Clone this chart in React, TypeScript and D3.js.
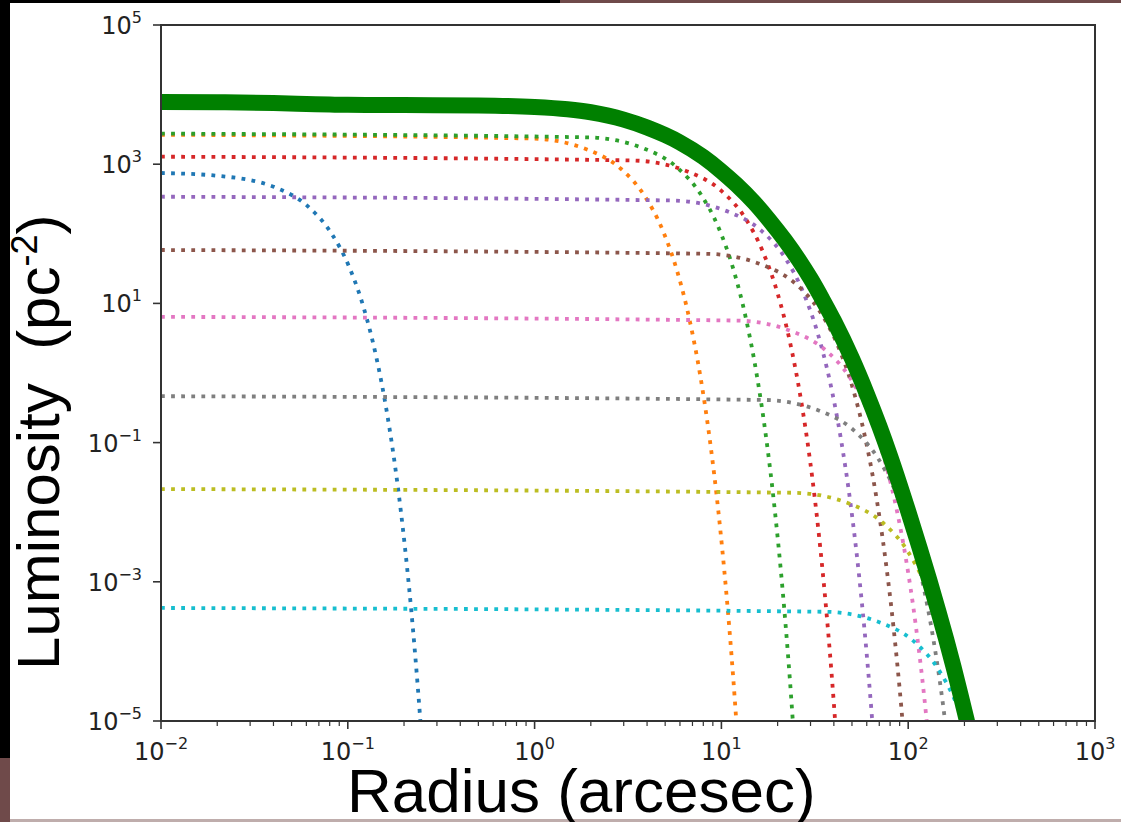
import React from "react";
import * as d3 from "d3";

const W = 1121;
const H = 822;

// Axis ticks
const X_TICK_VALUES = [1e-2, 1e-1, 1e0, 1e1, 1e2, 1e3];
const X_TICK_EXPONENTS = ["\u22122", "\u22121", "0", "1", "2", "3"];
const Y_TICK_VALUES = [1e5, 1e3, 1e1, 1e-1, 1e-3, 1e-5];
const Y_TICK_EXPONENTS = ["5", "3", "1", "\u22121", "\u22123", "\u22125"];

// Component colours (matplotlib tab10 order)
const COMPONENT_COLORS = [
  "#1f77b4", "#ff7f0e", "#2ca02c", "#d62728", "#9467bd",
  "#8c564b", "#e377c2", "#7f7f7f", "#bcbd22", "#17becf",
];

// Component profiles: radius (arcsec) and luminosity (pc^-2)
const c0Radius = [0.01, 0.0203, 0.0406, 0.0609, 0.0812, 0.1015, 0.1218, 0.1421, 0.1624, 0.1827, 0.203, 0.2233, 0.2436, 0.2639];
const c0Lum = [748, 680, 468, 250, 104, 33.9, 8.57, 1.69, 0.259, 0.0309, 2.87e-3, 2.08e-4, 1.17e-5, 5.16e-7];

const c1Radius = [0.01, 0.965, 1.93, 2.895, 3.86, 4.825, 5.79, 6.755, 7.72, 8.685, 9.65, 10.615, 11.58, 12.545];
const c1Lum = [2650, 2340, 1610, 860, 358, 116, 29.4, 5.79, 0.888, 0.106, 9.87e-3, 7.15e-4, 4.03e-5, 1.77e-6];

const c2Radius = [0.01, 1.935, 3.87, 5.805, 7.74, 9.675, 11.61, 13.545, 15.48, 17.415, 19.35, 21.285, 23.22, 25.155];
const c2Lum = [2750, 2430, 1670, 892, 372, 121, 30.5, 6.01, 0.922, 0.11, 1.02e-2, 7.42e-4, 4.19e-5, 1.84e-6];

const c3Radius = [0.01, 3.325, 6.65, 9.975, 13.3, 16.625, 19.95, 23.275, 26.6, 29.925, 33.25, 36.575, 39.9, 43.225];
const c3Lum = [1282, 1132, 778, 416, 174, 56.3, 14.2, 2.8, 0.43, 5.14e-2, 4.78e-3, 3.46e-4, 1.95e-5, 8.58e-7];

const c4Radius = [0.01, 5.45, 10.9, 16.35, 21.8, 27.25, 32.7, 38.15, 43.6, 49.05, 54.5, 59.95, 65.4, 70.85];
const c4Lum = [341, 301, 207, 111, 46.2, 15.0, 3.79, 0.746, 0.114, 1.37e-2, 1.27e-3, 9.21e-5, 5.2e-6, 2.28e-7];

const c5Radius = [0.01, 8.35, 16.7, 25.05, 33.4, 41.75, 50.1, 58.45, 66.8, 75.15, 83.5, 91.85, 100.2];
const c5Lum = [58.5, 51.6, 35.5, 19.0, 7.91, 2.57, 0.65, 0.128, 1.96e-2, 2.34e-3, 2.18e-4, 1.58e-5, 8.91e-7];

const c6Radius = [0.01, 12.15, 24.3, 36.45, 48.6, 60.75, 72.9, 85.05, 97.2, 109.35, 121.5, 133.65];
const c6Lum = [6.41, 5.66, 3.89, 2.08, 0.868, 0.282, 7.12e-2, 1.4e-2, 2.15e-3, 2.57e-4, 2.39e-5, 1.73e-6];

const c7Radius = [0.01, 17, 34, 51, 68, 85, 102, 119, 136, 153, 170];
const c7Lum = [0.464, 0.41, 0.282, 0.151, 6.29e-2, 2.04e-2, 5.16e-3, 1.02e-3, 1.56e-4, 1.86e-5, 1.73e-6];

const c8Radius = [0.01, 24.5, 49, 73.5, 98, 122.5, 147, 171.5, 196, 220.5];
const c8Lum = [2.15e-2, 1.9e-2, 1.31e-2, 6.99e-3, 2.91e-3, 9.46e-4, 2.39e-4, 4.71e-5, 7.22e-6, 8.63e-7];

const c9Radius = [0.01, 36, 72, 108, 144, 180, 216, 252];
const c9Lum = [4.21e-4, 3.71e-4, 2.55e-4, 1.37e-4, 5.69e-5, 1.85e-5, 4.68e-6, 9.2e-7];

// Total profile (thick green curve)
const totalRadius = [0.01, 0.02, 0.04, 0.06, 0.08, 0.1, 0.15, 0.2, 0.5, 1, 1.5, 2, 3, 4, 5, 6, 8, 10, 12, 15, 18, 22, 26, 30, 35, 40, 50, 60, 70, 80, 90, 100, 115, 130, 145, 160, 175, 190, 205, 220];
const totalLum = [7834, 7769, 7560, 7344, 7196, 7123, 7086, 7067, 6971, 6647, 6161, 5578, 4378, 3373, 2621, 2056, 1266, 791, 512, 280, 158, 79.2, 41.8, 22.8, 11.0, 5.63, 1.61, 0.505, 0.174, 6.41e-2, 2.49e-2, 1.03e-2, 3.1e-3, 1.04e-3, 3.78e-4, 1.47e-4, 5.94e-5, 2.47e-5, 1.07e-5, 4.86e-6];

const COMPONENTS: [number[], number[]][] = [
  [c0Radius, c0Lum], [c1Radius, c1Lum], [c2Radius, c2Lum], [c3Radius, c3Lum], [c4Radius, c4Lum],
  [c5Radius, c5Lum], [c6Radius, c6Lum], [c7Radius, c7Lum], [c8Radius, c8Lum], [c9Radius, c9Lum],
];

const PLOT = { left: 161, right: 1095, top: 25, bottom: 721 };

export default function App() {
  const x = d3.scaleLog().domain([1e-2, 1e3]).range([PLOT.left, PLOT.right]);
  const y = d3.scaleLog().domain([1e-5, 1e5]).range([PLOT.bottom, PLOT.top]);

  const line = d3
    .line<[number, number]>()
    .x((d) => x(d[0]))
    .y((d) => y(d[1]))
    .curve(d3.curveMonotoneX);

  const zip = (r: number[], l: number[]) => r.map((v, i) => [v, l[i]] as [number, number]);

  // minor x ticks
  const xMinor: number[] = [];
  for (let e = -2; e < 3; e++) {
    for (let m = 2; m <= 9; m++) xMinor.push(m * Math.pow(10, e));
  }

  const tickColor = "#333";
  const labelColor = "#222";
  const tickFont = "'DejaVu Sans', sans-serif";

  return (
    <svg
      width={W}
      height={H}
      style={{ position: "absolute", left: 0, top: 0, background: "#fff" }}
    >
      {/* background frame decoration */}
      <rect x={0} y={0} width={W} height={H} fill="#fff" />
      <rect x={0} y={0} width={560} height={3} fill="#000" />
      <rect x={560} y={0} width={W - 560} height={3} fill="#6f4a4a" />
      <rect x={0} y={0} width={10} height={758} fill="#000" />
      <rect x={0} y={758} width={10} height={64} fill="#6f4a4a" />
      <rect x={10} y={819} width={W - 10} height={3} fill="#bfadac" />

      <defs>
        <clipPath id="plotclip">
          <rect x={PLOT.left} y={PLOT.top} width={PLOT.right - PLOT.left} height={PLOT.bottom - PLOT.top} />
        </clipPath>
      </defs>

      <g clipPath="url(#plotclip)">
        {COMPONENTS.map(([r, l], i) => (
          <path
            key={i}
            d={line(zip(r, l)) || ""}
            fill="none"
            stroke={COMPONENT_COLORS[i]}
            strokeWidth={3.8}
            strokeDasharray="3.8 6.3"
          />
        ))}
        <path
          d={line(zip(totalRadius, totalLum)) || ""}
          fill="none"
          stroke="#008000"
          strokeWidth={16}
        />
      </g>

      {/* spines */}
      <rect
        x={PLOT.left}
        y={PLOT.top}
        width={PLOT.right - PLOT.left}
        height={PLOT.bottom - PLOT.top}
        fill="none"
        stroke={tickColor}
        strokeWidth={2}
      />

      {/* x ticks */}
      {X_TICK_VALUES.map((v, i) => (
        <g key={"xt" + i}>
          <line x1={x(v)} x2={x(v)} y1={PLOT.bottom} y2={PLOT.bottom + 8} stroke={tickColor} strokeWidth={1.6} />
          <text
            x={x(v)}
            y={760}
            textAnchor="middle"
            fontFamily={tickFont}
            fontSize={24}
            fill={labelColor}
          >
            10
            <tspan dy={-11} fontSize={16}>{X_TICK_EXPONENTS[i]}</tspan>
          </text>
        </g>
      ))}
      {xMinor.map((v, i) => (
        <line key={"xm" + i} x1={x(v)} x2={x(v)} y1={PLOT.bottom} y2={PLOT.bottom + 5} stroke={tickColor} strokeWidth={1.2} />
      ))}

      {/* y ticks */}
      {Y_TICK_VALUES.map((v, i) => (
        <g key={"yt" + i}>
          <line x1={PLOT.left - 8} x2={PLOT.left} y1={y(v)} y2={y(v)} stroke={tickColor} strokeWidth={1.6} />
          <text
            x={142}
            y={y(v) + 9}
            textAnchor="end"
            fontFamily={tickFont}
            fontSize={24}
            fill={labelColor}
          >
            10
            <tspan dy={-11} fontSize={16}>{Y_TICK_EXPONENTS[i]}</tspan>
          </text>
        </g>
      ))}

      {/* axis titles */}
      <text
        x={347}
        y={812}
        fontFamily="'Liberation Sans', Arial, sans-serif"
        fontSize={62}
        fill="#000"
      >
        Radius (arcesec)
      </text>
      <text
        transform="translate(59,670) rotate(-90)"
        fontFamily="'Liberation Sans', Arial, sans-serif"
        fontSize={60}
        fill="#000"
        xmlSpace="preserve"
      >
        {"Luminosity  (pc"}
        <tspan dy={-22} fontSize={36}>-2</tspan>
        <tspan dy={22}>)</tspan>
      </text>
    </svg>
  );
}
